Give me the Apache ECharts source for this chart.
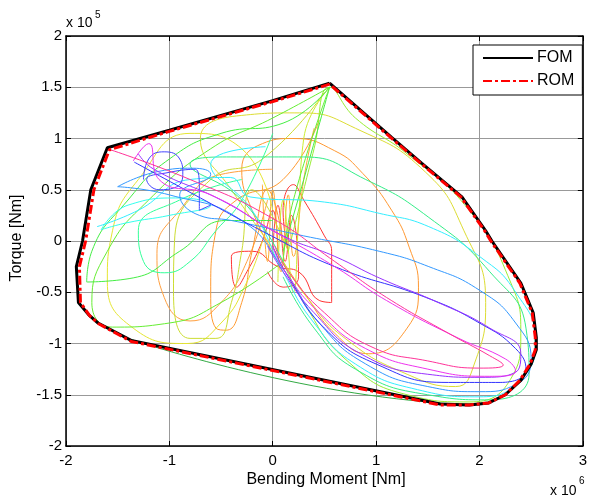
<!DOCTYPE html>
<html><head><meta charset="utf-8">
<script src="https://cdn.jsdelivr.net/npm/echarts@6/dist/echarts.min.js"></script>
<style>html,body{margin:0;padding:0;background:#fff}#c{width:590px;height:502px}</style>
</head><body><div id="c"></div>
<script>
// Units: bending moment in 1e6 Nm, torque in 1e5 Nm
var xTicks = [-2, -1, 0, 1, 2, 3];
var yTicks = [-2, -1.5, -1, -0.5, 0, 0.5, 1, 1.5, 2];

var fom = [[0.55,1.54],[0.0,1.37],[-1.0,1.08],[-1.6,0.91],[-1.76,0.5],[-1.84,0.0],[-1.9,-0.25],[-1.88,-0.6],[-1.78,-0.72],[-1.69,-0.8],[-1.37,-0.97],[1.62,-1.59],[1.9,-1.6],[2.09,-1.58],[2.25,-1.5],[2.4,-1.36],[2.5,-1.2],[2.55,-1.06],[2.55,-0.94],[2.52,-0.7],[2.4,-0.41],[2.12,0.0],[2.06,0.1],[1.83,0.43],[1.44,0.76],[1.15,1.01],[0.55,1.54]];
var rom = [[0.55,1.53],[0.0,1.36],[-1.0,1.07],[-1.58,0.89],[-1.73,0.5],[-1.81,0.0],[-1.87,-0.25],[-1.86,-0.6],[-1.77,-0.73],[-1.68,-0.81],[-1.37,-0.98],[1.62,-1.6],[1.9,-1.6],[2.09,-1.58],[2.25,-1.5],[2.39,-1.36],[2.49,-1.2],[2.54,-1.06],[2.54,-0.94],[2.51,-0.7],[2.39,-0.41],[2.11,0.0],[2.05,0.1],[1.82,0.43],[1.43,0.76],[1.14,1.01],[0.55,1.53]];

var red = [[0.15,-0.1],[0.1,0.3],[0.2,0.55],[0.3,0.4],[0.5,0.05],[0.57,-0.1],[0.57,-0.6],[0.45,-0.58],[0.25,-0.3],[0.05,-0.25],[-0.2,-0.1],[-0.4,-0.15],[-0.35,-0.45],[-0.25,-0.3],[-0.1,0.0],[0.0,0.3],[0.05,-0.1]];
var red2 = [[0.0,-0.1],[0.05,0.35],[0.12,-0.2],[0.18,0.25],[0.25,-0.35],[0.1,-0.45],[-0.05,-0.3]];
var orangeA = [[0.05,-0.2],[-0.2,0.3],[-0.3,0.7],[-0.1,0.95],[0.2,1.0],[0.6,0.88],[0.87,0.66],[1.15,0.3],[1.32,-0.06],[1.41,-0.45],[1.3,-0.85],[0.93,-1.1],[0.6,-0.9],[0.3,-0.5],[0.1,-0.2]];
var orangeB = [[0.0,0.7],[-0.5,0.65],[-0.9,0.3],[-1.12,-0.12],[-1.05,-0.55],[-0.8,-0.78],[-0.5,-0.6],[-0.25,-0.2],[-0.05,0.4]];
var orangeC = [[0.45,1.18],[0.1,0.6],[-0.35,0.4],[-0.55,0.1],[-0.6,-0.5],[-0.55,-0.85],[-0.45,-0.87],[-0.3,-0.6],[-0.2,-0.1],[-0.05,0.5],[0.1,0.0]];
var orange2 = [[-0.1,0.55],[-0.05,-0.2],[0.0,0.5],[0.08,-0.3],[0.15,0.45],[0.2,-0.15],[0.3,0.6],[0.4,1.1]];
var yellowA = [[0.1,-0.2],[-0.4,0.5],[-0.7,1.0],[-0.35,1.22],[0.26,1.25],[0.8,1.1],[1.48,0.67],[1.85,0.1],[2.06,-0.6],[1.95,-1.2],[1.77,-1.42],[1.3,-1.3],[0.7,-0.95],[0.33,-0.55],[0.1,-0.2]];
var yellowB = [[0.0,0.3],[-0.3,0.9],[-0.8,1.05],[-1.3,0.6],[-1.55,0.1],[-1.6,-0.4],[-1.35,-0.85],[-0.83,-1.0],[-0.5,-0.8],[-0.25,-0.4],[-0.1,0.0]];
var yellowC = [[0.5,1.45],[-0.1,0.8],[-0.6,0.6],[-0.95,0.0],[-0.96,-0.5],[-0.8,-0.95],[-0.55,-0.95],[-0.4,-0.6],[-0.3,-0.1],[-0.2,0.5],[0.15,-0.1]];
var yellow2 = [[0.05,-0.4],[0.1,0.4],[0.2,-0.5],[0.25,0.2],[0.3,1.0],[0.55,1.5]];
var lime = [[0.15,-0.1],[0.4,0.9],[0.55,1.5],[0.8,1.2],[1.3,0.85],[1.9,0.3],[2.3,-0.4],[2.4,-0.9],[2.3,-1.35],[1.9,-1.57],[1.3,-1.5],[0.7,-1.15],[0.3,-0.6],[0.1,-0.2]];
var greenA = [[0.0,0.2],[-0.45,0.2],[-0.9,-0.1],[-1.35,-0.36],[-1.8,-0.4],[-1.75,-0.1],[-1.4,0.4],[-1.0,0.8],[-0.5,1.05],[0.1,1.15],[0.55,1.5],[0.3,0.6],[0.1,-0.1]];
var greenB = [[0.1,-0.2],[-0.5,-0.6],[-1.0,-0.8],[-1.55,-0.84],[-1.75,-0.6],[-1.6,-0.1],[-1.2,0.4],[-0.6,0.9],[0.0,1.2],[0.55,1.5],[0.2,0.4],[0.1,-0.2]];
var spring = [[0.1,-0.2],[-0.3,0.4],[-0.8,0.75],[-0.41,0.82],[0.3,0.82],[0.9,0.6],[1.51,0.23],[2.1,-0.3],[2.45,-0.85],[2.48,-1.3],[2.1,-1.55],[1.5,-1.5],[0.8,-1.25],[0.4,-0.85],[0.1,-0.35]];
var spring2 = [[-0.3,0.6],[-0.9,0.4],[-1.3,0.1],[-1.25,-0.2],[-1.05,-0.31],[-0.8,-0.2],[-0.55,0.1],[-0.3,0.4],[0.0,1.05]];
var cyan = [[-1.7,0.14],[-1.3,0.3],[-0.8,0.6],[-0.41,0.62],[-0.22,0.43],[0.5,0.38],[1.03,0.27],[1.51,0.14],[2.0,-0.15],[2.35,-0.5],[2.54,-0.97],[2.4,-1.35],[2.0,-1.52],[1.4,-1.45],[0.8,-1.2],[0.4,-0.8],[0.1,-0.3],[-0.2,0.3],[-0.6,0.75],[-0.07,0.92]];
var cyan2 = [[-1.66,0.11],[-1.4,0.18],[-1.0,0.25],[-0.6,0.35],[-0.9,0.42],[-1.4,0.35],[-1.66,0.11]];
var sky = [[-1.5,0.53],[-1.1,0.68],[-0.77,0.71],[-0.6,0.65],[-0.9,0.45],[-0.71,0.25],[-0.4,0.2],[0.3,0.05],[1.03,-0.1],[1.51,-0.25],[2.0,-0.48],[2.35,-0.8],[2.5,-1.16],[2.35,-1.4],[2.0,-1.47],[1.5,-1.42],[0.9,-1.2],[0.45,-0.8],[0.12,-0.3],[-0.3,0.2],[-1.0,0.45],[-1.5,0.53]];
var blue = [[-1.34,0.77],[-0.7,0.42],[-0.07,0.08],[0.6,-0.25],[1.48,-0.55],[2.0,-0.8],[2.35,-1.05],[2.45,-1.25],[2.2,-1.38],[1.7,-1.38],[1.0,-1.2],[0.5,-0.85],[0.15,-0.35],[0.0,-0.05]];
var blue2 = [[-1.25,0.6],[-1.2,0.8],[-1.05,0.87],[-0.9,0.8],[-0.87,0.65],[-0.95,0.52],[-1.1,0.5],[-1.22,0.6],[-1.0,0.67],[-0.75,0.7],[-0.71,0.5],[-0.71,0.3],[-0.6,0.35]];
var violet = [[-1.3,0.85],[-1.15,0.7],[-0.5,0.4],[0.1,0.05],[0.6,-0.15],[1.03,-0.36],[1.6,-0.6],[2.1,-0.85],[2.4,-1.1],[2.35,-1.28],[2.0,-1.33],[1.5,-1.3],[0.85,-1.1],[0.4,-0.7],[0.1,-0.3],[-0.05,-0.05]];
var magenta = [[-1.35,0.78],[-1.2,0.95],[-1.1,0.6],[-0.6,0.45],[0.0,0.1],[0.6,-0.25],[1.1,-0.58],[1.8,-0.95],[2.25,-1.15],[2.35,-1.27],[2.1,-1.32],[1.5,-1.25],[0.9,-1.05],[0.45,-0.7],[0.12,-0.3],[0.0,-0.05]];
var pink = [[-1.6,0.9],[-0.8,0.6],[0.0,0.22],[0.6,-0.2],[1.1,-0.55],[1.7,-0.9],[2.1,-1.12],[2.23,-1.21],[2.0,-1.24],[1.5,-1.17],[0.95,-1.03],[0.5,-0.7],[0.15,-0.3],[0.02,-0.05]];
var hug = [[-1.37,-0.96],[1.62,-1.58],[1.9,-1.59],[2.09,-1.57],[2.25,-1.49],[2.39,-1.35],[2.49,-1.2],[2.54,-1.06],[2.54,-0.94],[2.51,-0.7],[2.39,-0.41],[2.11,0.0]];

var loops = [
  [red,'#ff3333'],[red2,'#ff4444'],[orangeA,'#ff9933'],[orangeB,'#ffa040'],[orangeC,'#ff9a30'],[orange2,'#ffaa33'],
  [yellowA,'#dddd33'],[yellowB,'#e6e633'],[yellowC,'#ccdd33'],[yellow2,'#ccee33'],[lime,'#99ee33'],
  [greenA,'#44ee44'],[greenB,'#66ee33'],[spring,'#33ee88'],[spring2,'#33ff99'],
  [cyan,'#33eeff'],[cyan2,'#33ffee'],[sky,'#3399ff'],[blue,'#3333ff'],[blue2,'#4444ff'],
  [violet,'#9933ff'],[magenta,'#ee33ee'],[pink,'#ff3399'],[hug,'#33aa44']
];

var font = 'Liberation Sans, Arial, sans-serif';
var series = loops.map(function (l) {
  return {type:'line', data:l[0], symbol:'none', smooth:0.5, silent:true,
    lineStyle:{color:l[1], width:1}, z:2};
});
series.push({name:'FOM', type:'line', data:fom, symbol:'none', lineStyle:{color:'#000', width:3}, itemStyle:{color:'#000'}, z:5});
series.push({name:'ROM', type:'line', data:rom, symbol:'none', lineStyle:{color:'#ff0000', width:3, type:[9,3,3,3]}, itemStyle:{color:'#ff0000'}, z:6});

var chart = echarts.init(document.getElementById('c'), null, {renderer:'canvas'});
var axBase = {
  axisLine:{onZero:false, lineStyle:{color:'#000', width:1.5}},
  axisTick:{inside:true, length:5, lineStyle:{color:'#000'}},
};
chart.setOption({
  animation:false,
  backgroundColor:'#fff',
  grid:{left:66, right:4, top:36, bottom:56},
  legend:{data:['FOM','ROM'], left:473, top:45, orient:'vertical', padding:[5,8,6,9], itemGap:7,
    itemWidth:50, itemHeight:14, borderColor:'#000', borderWidth:1, backgroundColor:'#fff',
    itemStyle:{opacity:0},
    textStyle:{fontFamily:font, fontSize:16, color:'#000', padding:[0,0,0,-1]}},
  xAxis:[
    Object.assign({type:'value', min:-2, max:3, interval:1, position:'bottom',
      axisLabel:{color:'#000', fontFamily:font, fontSize:15, margin:7},
      splitLine:{show:true, lineStyle:{color:'#999', width:1}}}, axBase),
    Object.assign({type:'value', min:-2, max:3, interval:1, position:'top',
      axisLabel:{show:false}, splitLine:{show:false}}, axBase)
  ],
  yAxis:[
    Object.assign({type:'value', min:-2, max:2, interval:0.5, position:'left',
      axisLabel:{color:'#000', fontFamily:font, fontSize:15, margin:4},
      splitLine:{show:true, lineStyle:{color:'#999', width:1}}}, axBase),
    Object.assign({type:'value', min:-2, max:2, interval:0.5, position:'right',
      axisLabel:{show:false}, splitLine:{show:false}}, axBase)
  ],
  graphic:[
    {type:'text', left:66, top:16, style:{text:'x 10', font:'14px '+font, fill:'#000'}},
    {type:'text', left:95, top:10, style:{text:'5', font:'10px '+font, fill:'#000'}},
    {type:'text', left:550, top:484, style:{text:'x 10', font:'14px '+font, fill:'#000'}},
    {type:'text', left:579, top:476, style:{text:'6', font:'10px '+font, fill:'#000'}},
    {type:'text', x:326, y:480, style:{text:'Bending Moment [Nm]', font:'16px '+font, fill:'#000', align:'center', verticalAlign:'middle'}},
    {type:'text', x:17, y:238, rotation:Math.PI/2, style:{text:'Torque [Nm]', font:'16px '+font, fill:'#000', align:'center', verticalAlign:'middle'}}
  ],
  series:series
});
</script></body></html>
